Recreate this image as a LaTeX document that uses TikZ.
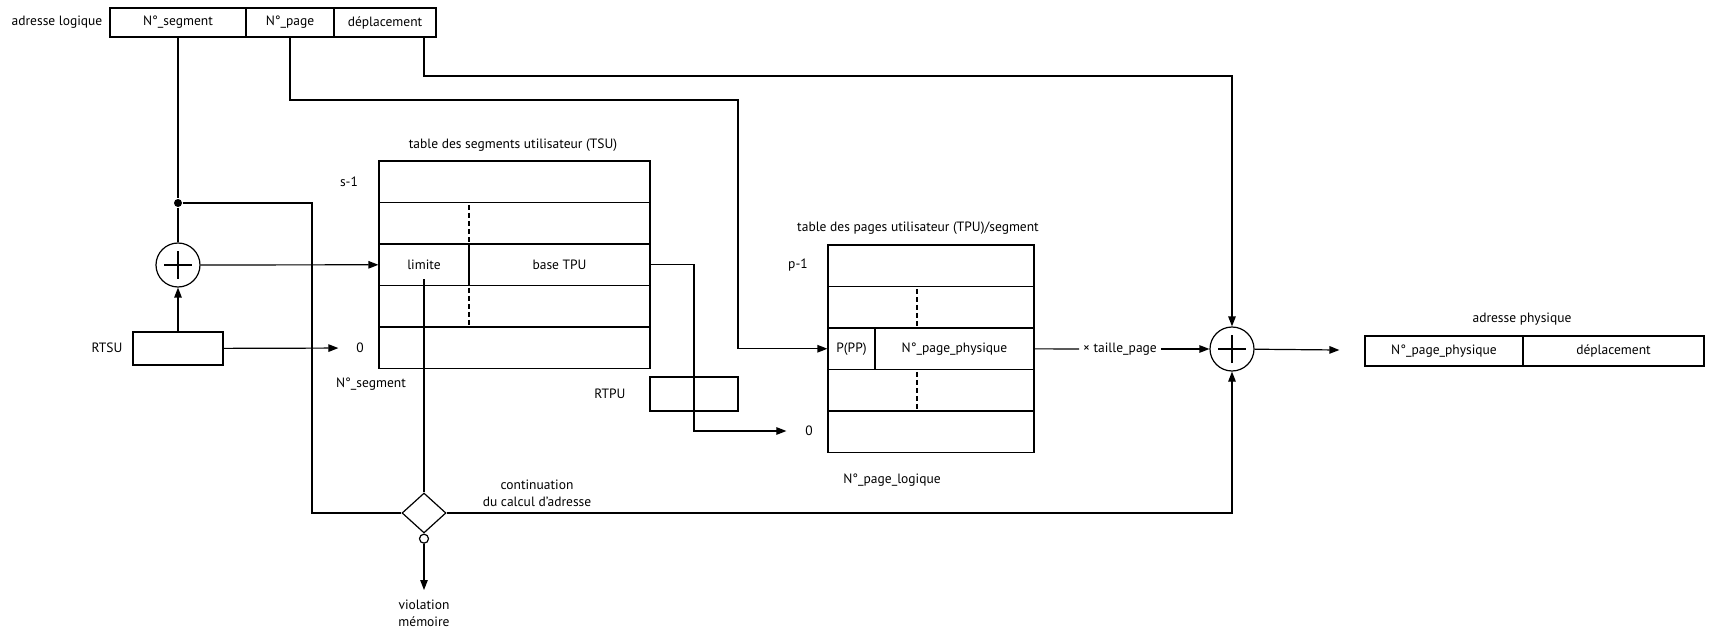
\documentclass[tikz,border=0pt]{standalone}
\usepackage{fontspec}
\setmainfont{PT Sans}
\usetikzlibrary{arrows.meta,shapes.geometric}
\tikzset{
  cell/.style={draw, inner sep=0pt, minimum height=41.5pt},
  adder/.style={draw, circle, inner sep=0pt, minimum size=44pt},
  junction/.style={circle, fill, inner sep=0pt, minimum size=8pt},
  dashcell/.style={dash pattern=on 5pt off 3pt}
}

\begin{document}
\begin{tikzpicture}[x=1pt,y=-1pt,line width=1.2pt,>={Triangle[length=10pt,width=7.5pt]},
  font=\fontsize{13.5}{17}\selectfont]
\useasboundingbox (0,0) rectangle (1709,631);

\node (adrlog) at (57,22) {adresse logique};
\node[cell,minimum width=136pt,minimum height=29pt] (nseg) at (178,22.5) {N°\_segment};
\node[cell,minimum width=88pt,minimum height=29pt] (npage) at (290,22.5) {N°\_page};
\node[cell,minimum width=102pt,minimum height=29pt] (depl) at (385,22.5) {déplacement};

\node[junction] (dot) at (178,203) {};
\node[adder] (add1) at (178,265) {};
\node[cell,minimum width=90pt,minimum height=33pt] (rtsu) at (178,348.5) {};
\node (rtsulab) at (107,348) {RTSU};

\node (tsutitle) at (513,145) {table des segments utilisateur (TSU)};
\node[cell,minimum width=271pt] (tsu4) at (514.5,181.75) {};
\node[cell,minimum width=271pt] (tsu3) at (514.5,223.25) {};
\node[cell,minimum width=90pt] (lim) at (424,264.75) {limite};
\node[cell,minimum width=181pt] (base) at (559.5,264.75) {base TPU};
\node[cell,minimum width=271pt] (tsu1) at (514.5,306.25) {};
\node[cell,minimum width=271pt] (tsu0) at (514.5,347.75) {};
\node (smax) at (349,182) {s-1};
\node (s0) at (360,348) {0};
\node (nseglab) at (371,384) {N°\_segment};

\node[cell,minimum width=88pt,minimum height=34pt] (rtpu) at (694,394) {};
\node (rtpulab) at (610,394) {RTPU};

\node (tputitle) at (918,228) {table des pages utilisateur (TPU)/segment};
\node[cell,minimum width=206pt] (tpu4) at (931,265.75) {};
\node[cell,minimum width=206pt] (tpu3) at (931,307.25) {};
\node[cell,minimum width=47pt] (pp) at (851.5,348.75) {P(PP)};
\node[cell,minimum width=159pt] (ppage) at (954.5,348.75) {N°\_page\_physique};
\node[cell,minimum width=206pt] (tpu1) at (931,390.25) {};
\node[cell,minimum width=206pt] (tpu0) at (931,431.75) {};
\node (pmax) at (798,265) {p-1};
\node (p0) at (809,431) {0};
\node (nplab) at (892,480) {N°\_page\_logique};

\node (taille) at (1120,349) {× taille\_page};
\node[adder] (add2) at (1232,349) {};
\node (phystitle) at (1522,319) {adresse physique};
\node[cell,minimum width=158pt,minimum height=30pt] (physpage) at (1444,351) {N°\_page\_physique};
\node[cell,minimum width=181pt,minimum height=30pt] (physdepl) at (1613.5,351) {déplacement};

\node[draw,diamond,minimum width=44pt,minimum height=40pt,inner sep=0pt] (diam) at (424,513) {};
\node[draw,circle,fill=white,inner sep=0pt,minimum size=9pt,anchor=north] (viol0) at (diam.south) {};
\node[align=center] (viol) at (424,613) {violation\\mémoire};
\node[align=center] (cont) at (537,493) {continuation\\du calcul d'adresse};

\draw[dashcell] ([xshift=-45.5pt,yshift=-3pt]tsu3.north) -- ([xshift=-45.5pt,yshift=3pt]tsu3.south)
  ([xshift=-45.5pt,yshift=-3pt]tsu1.north) -- ([xshift=-45.5pt,yshift=3pt]tsu1.south)
  ([xshift=-14pt,yshift=-3pt]tpu3.north) -- ([xshift=-14pt,yshift=3pt]tpu3.south)
  ([xshift=-14pt,yshift=-3pt]tpu1.north) -- ([xshift=-14pt,yshift=3pt]tpu1.south);
\foreach \a in {add1,add2}
  \draw[line width=2.4pt] ([xshift=-14pt]\a.center) -- ([xshift=14pt]\a.center)
    ([yshift=-14pt]\a.center) -- ([yshift=14pt]\a.center);

\coordinate (kseg) at (312,203);
\coordinate (kpage) at (738,100);
\coordinate (kdepl) at (424,76);
\coordinate (kbase) at (rtpu |- p0);
\coordinate (violtip) at (424,590);

\draw (nseg) -- (dot) -- (add1);
\draw[->] (rtsu) -- (add1);
\draw[->] (add1) -- (lim);
\draw[->,shorten >=14pt] (rtsu) -- (s0);
\draw (dot) -- (kseg) |- (diam);
\draw ([yshift=7pt]lim.south) -- (diam);
\draw[->] (viol0) -- (violtip);
\draw[->] (npage) |- (kpage) |- (pp);
\draw[->] (kdepl |- depl.south) -- (kdepl) -| (add2);
\draw[->] (diam) -| (add2);
\draw[->,shorten >=15pt] (base) -| (kbase) -- (p0);
\draw (ppage) -- (taille);
\draw[->] (taille) -- (add2);
\draw[->,shorten >=25pt] (add2) -- (physpage);
\end{tikzpicture}
\end{document}
